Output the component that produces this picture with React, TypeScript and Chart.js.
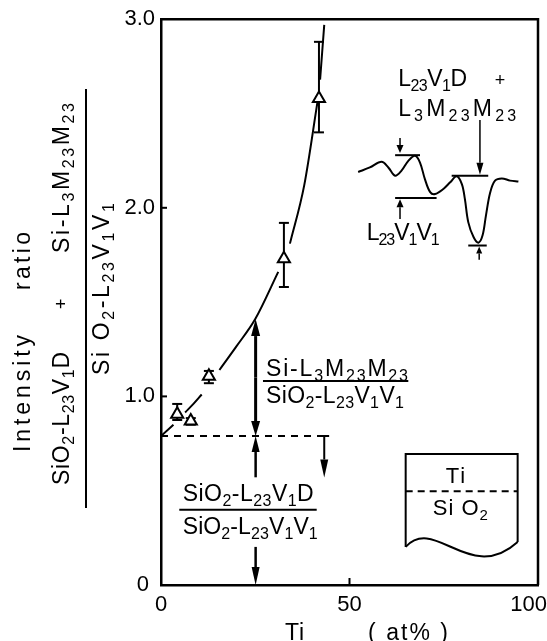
import React, { useEffect, useRef } from "react";
import { Chart, registerables } from "chart.js";

Chart.register(...registerables);

const FONT = '"Liberation Sans", Arial, Helvetica, sans-serif';

// measured points (Ti at%, intensity ratio) with error bars
const tiAtPercent = [4.3, 7.9, 12.7, 32.6, 41.9];
const intensityRatio = [0.905, 0.87, 1.107, 1.73, 2.58];
const ratioErrLow = [0.875, 0.85, 1.07, 1.58, 2.4];
const ratioErrHigh = [0.96, 0.885, 1.135, 1.92, 2.88];

// hand-drawn fit curve (null = gap in the drawn line)
const fitTi = [0, 3.3, 4.8, 6.4, 8.6, 10.8, 13.0, 15.5, 20, 25, 31.1, 32.6, 34.2, 38, 41.5, 41.9, 42.2, 43.3];
const fitRatio = [0.79, 0.85, null, 0.915, 0.96, 1.01, null, 1.14, 1.265, 1.41, 1.66, null, 1.81, 2.12, 2.56, null, 2.68, 2.97];

// inset Auger spectrum sketch
const spectrumX = [52.3, 55.4, 58.5, 60.3, 62.1, 63.8, 65.6, 67.4, 68.7, 70.0, 71.4, 72.7, 74.9, 76.7, 78.4, 79.8, 80.6, 81.5, 82.9, 84.2, 85.3, 86.2, 87.3, 88.6, 90.4, 92.6, 94.8];
const spectrumY = [2.19, 2.214, 2.244, 2.214, 2.17, 2.197, 2.249, 2.276, 2.24, 2.152, 2.083, 2.073, 2.1, 2.135, 2.167, 2.126, 2.047, 1.924, 1.845, 1.815, 1.854, 1.96, 2.08, 2.144, 2.156, 2.144, 2.139];

const xTickLabels: Record<number, string> = { 0: "0", 50: "50", 100: "100" };
const yTickLabels: Record<number, string> = { 0: "0 ", 1: "1.0", 2: "2.0", 3: "3.0" };
const baselineRatio = 0.79;

type Seg = { t: string; sub: boolean };
function parseRich(s: string): Seg[] {
  const segs: Seg[] = [];
  const re = /_(\d+)|([^_]+)/g;
  let m: RegExpExecArray | null;
  while ((m = re.exec(s))) {
    if (m[1] !== undefined) segs.push({ t: m[1], sub: true });
    else segs.push({ t: m[2], sub: false });
  }
  return segs;
}

function drawRich(
  ctx: CanvasRenderingContext2D,
  str: string,
  x: number,
  y: number,
  o: { size: number; align?: "left" | "center" | "right"; target?: number; ls?: number }
) {
  const segs = parseRich(str);
  const size = o.size;
  const sub = Math.round(size * 0.7);
  let w = 0;
  let n = 0;
  for (const s of segs) {
    ctx.font = `${s.sub ? sub : size}px ${FONT}`;
    for (const ch of s.t) {
      w += ctx.measureText(ch).width;
      n++;
    }
  }
  let ls = o.ls ?? 0;
  if (o.target) ls = (o.target - w) / Math.max(1, n - 1);
  const total = w + ls * (n - 1);
  let cx = o.align === "center" ? x - total / 2 : o.align === "right" ? x - total : x;
  ctx.textAlign = "left";
  ctx.textBaseline = "alphabetic";
  for (const s of segs) {
    ctx.font = `${s.sub ? sub : size}px ${FONT}`;
    const dy = s.sub ? size * 0.22 : 0;
    for (const ch of s.t) {
      ctx.fillText(ch, cx, y + dy);
      cx += ctx.measureText(ch).width + ls;
    }
  }
}

function drawRotated(ctx: CanvasRenderingContext2D, str: string, baseX: number, startY: number, size: number, target?: number) {
  ctx.save();
  ctx.translate(baseX, startY);
  ctx.rotate(-Math.PI / 2);
  drawRich(ctx, str, 0, 0, { size, target });
  ctx.restore();
}

function seg(ctx: CanvasRenderingContext2D, x1: number, y1: number, x2: number, y2: number) {
  ctx.beginPath();
  ctx.moveTo(x1, y1);
  ctx.lineTo(x2, y2);
  ctx.stroke();
}

function arrow(ctx: CanvasRenderingContext2D, x1: number, y1: number, x2: number, y2: number, len: number, hw: number, lw: number) {
  const ang = Math.atan2(y2 - y1, x2 - x1);
  const bx = x2 - len * Math.cos(ang);
  const by = y2 - len * Math.sin(ang);
  ctx.lineWidth = lw;
  seg(ctx, x1, y1, bx, by);
  ctx.beginPath();
  ctx.moveTo(x2, y2);
  ctx.lineTo(bx + hw * Math.sin(ang), by - hw * Math.cos(ang));
  ctx.lineTo(bx - hw * Math.sin(ang), by + hw * Math.cos(ang));
  ctx.closePath();
  ctx.fill();
}

const annotations = {
  id: "annotations",
  beforeDatasetsDraw(chart: any) {
    const { ctx } = chart;
    const sx = chart.scales.x;
    const sy = chart.scales.y;
    ctx.save();
    ctx.strokeStyle = "#000";
    ctx.lineWidth = 2;
    tiAtPercent.forEach((x, i) => {
      const px = sx.getPixelForValue(x);
      const y1 = sy.getPixelForValue(ratioErrLow[i]);
      const y2 = sy.getPixelForValue(ratioErrHigh[i]);
      seg(ctx, px, y1, px, y2);
      seg(ctx, px - 5, y1, px + 5, y1);
      seg(ctx, px - 5, y2, px + 5, y2);
    });
    ctx.restore();
  },
  afterDatasetsDraw(chart: any) {
    const { ctx, chartArea } = chart;
    const sx = chart.scales.x;
    const sy = chart.scales.y;
    const X = (v: number) => sx.getPixelForValue(v);
    const Y = (v: number) => sy.getPixelForValue(v);
    const { left, right, top, bottom } = chartArea;
    ctx.save();
    ctx.strokeStyle = "#000";
    ctx.fillStyle = "#000";

    // frame top/right
    ctx.lineWidth = 2.5;
    ctx.beginPath();
    ctx.moveTo(left, top);
    ctx.lineTo(right, top);
    ctx.lineTo(right, bottom);
    ctx.stroke();

    // inward tick marks
    ctx.lineWidth = 2;
    for (const t of sy.ticks) {
      if (t.value > 0 && t.value < 3) seg(ctx, left, Y(t.value), left + 6, Y(t.value));
    }
    for (const t of sx.ticks) {
      if (t.value > 0 && t.value < 100) seg(ctx, X(t.value), bottom, X(t.value), bottom - 7);
    }

    // x tick labels
    ctx.font = `22px ${FONT}`;
    ctx.textAlign = "left";
    ctx.textBaseline = "alphabetic";
    for (const t of sx.ticks) {
      const lab = xTickLabels[t.value] ?? "";
      const w = ctx.measureText(lab).width;
      const cx = Math.min(X(t.value), chart.width - w / 2);
      ctx.fillText(lab, cx - w / 2, bottom + 26);
    }
    // x title
    drawRich(ctx, "Ti", 285, bottom + 55, { size: 23 });
    drawRich(ctx, "( at% )", 368, bottom + 55, { size: 23, target: 80 });

    // y title (rotated)
    drawRotated(ctx, "Intensity", 30, 452, 23, 117);
    drawRotated(ctx, "ratio", 30, 290, 23, 58);
    drawRotated(ctx, "SiO_2-L_23V_1D", 69, 485, 23, 133);
    drawRotated(ctx, "+", 67, 309, 18);
    drawRotated(ctx, "Si-L_3M_23M_23", 69, 253, 23, 150);
    ctx.lineWidth = 2;
    seg(ctx, 86, 89, 86, 508);
    drawRotated(ctx, "Si O_2-L_23V_1V_1", 109, 375, 23, 172);

    // dashed baseline and arrows
    ctx.lineWidth = 2;
    ctx.setLineDash([7, 6]);
    seg(ctx, X(0), Y(baselineRatio), X(44.3), Y(baselineRatio));
    ctx.setLineDash([]);
    seg(ctx, X(42.0), Y(baselineRatio), X(44.6), Y(baselineRatio));
    arrow(ctx, X(43.3), Y(baselineRatio), X(43.3), Y(0.57), 18, 4, 2);
    arrow(ctx, X(25.1), Y(1.1), X(25.1), Y(1.41), 17, 4.5, 3);
    arrow(ctx, X(25.1), Y(1.1), X(25.1), Y(baselineRatio), 15, 4.5, 3);
    arrow(ctx, X(25.1), Y(0.571), X(25.1), Y(baselineRatio), 16, 4, 2.5);
    arrow(ctx, X(25.1), Y(0.202), X(25.1), Y(0), 18, 4, 2.5);

    // right fraction
    drawRich(ctx, "Si-L_3M_23M_23", X(27.85), Y(1.107), { size: 23, target: 142 });
    ctx.lineWidth = 2;
    seg(ctx, X(27.05), Y(1.081), X(65.6), Y(1.081));
    drawRich(ctx, "SiO_2-L_23V_1V_1", X(27.85), Y(0.966), { size: 23, target: 138 });

    // lower fraction
    drawRich(ctx, "SiO_2-L_23V_1D", X(5.76), Y(0.444), { size: 23, target: 131 });
    seg(ctx, X(4.85), Y(0.399), X(41.3), Y(0.399));
    drawRich(ctx, "SiO_2-L_23V_1V_1", X(5.76), Y(0.269), { size: 23, target: 135 });

    // spectrum labels and markers
    drawRich(ctx, "L_23V_1D", X(62.9), Y(2.646), { size: 23, target: 69 });
    drawRich(ctx, "+", X(89.9), Y(2.646), { size: 18, align: "center" });
    drawRich(ctx, "L_3M_23M_23", X(62.9), Y(2.488), { size: 23, target: 118 });
    drawRich(ctx, "L_23V_1V_1", X(54.56), Y(1.829), { size: 23, target: 73 });
    ctx.lineWidth = 2;
    seg(ctx, X(62.1), Y(2.279), X(68.7), Y(2.279));
    arrow(ctx, X(63.4), Y(2.37), X(63.4), Y(2.29), 8, 3.5, 1.5);
    ctx.lineWidth = 2;
    seg(ctx, X(62.1), Y(2.052), X(73.1), Y(2.052));
    arrow(ctx, X(63.4), Y(1.94), X(63.4), Y(2.045), 8, 3.5, 1.5);
    ctx.lineWidth = 2;
    seg(ctx, X(77.1), Y(2.17), X(86.8), Y(2.17));
    arrow(ctx, X(84.6), Y(2.465), X(84.6), Y(2.175), 12, 3.5, 1.5);
    ctx.lineWidth = 2;
    seg(ctx, X(81.5), Y(1.8), X(86.4), Y(1.8));
    arrow(ctx, X(84.4), Y(1.725), X(84.4), Y(1.795), 7, 3, 1.5);

    // inset layer sketch
    ctx.lineWidth = 2;
    ctx.beginPath();
    ctx.moveTo(X(64.9), Y(0.202));
    ctx.lineTo(X(64.9), Y(0.694));
    ctx.lineTo(X(94.6), Y(0.694));
    ctx.lineTo(X(94.6), Y(0.228));
    ctx.stroke();
    ctx.beginPath();
    ctx.moveTo(X(64.9), Y(0.202));
    ctx.bezierCurveTo(X(72.7), Y(0.37), X(82), Y(0.0), X(94.6), Y(0.228));
    ctx.stroke();
    ctx.setLineDash([7, 5]);
    seg(ctx, X(64.9), Y(0.497), X(94.6), Y(0.497));
    ctx.setLineDash([]);
    drawRich(ctx, "Ti", X(78.1), Y(0.543), { size: 22, align: "center", ls: 1 });
    drawRich(ctx, "Si O_2", X(79.4), Y(0.369), { size: 22, align: "center", target: 55 });

    ctx.restore();
  },
};

export default function App() {
  const ref = useRef<HTMLCanvasElement>(null);
  useEffect(() => {
    const chart = new Chart(ref.current as HTMLCanvasElement, {
      type: "line",
      data: {
        datasets: [
          {
            label: "measured",
            data: tiAtPercent.map((x, i) => ({ x, y: intensityRatio[i] })),
            showLine: false,
            pointStyle: "triangle",
            pointRadius: 7,
            backgroundColor: "#fff",
            borderColor: "#000",
            borderWidth: 2,
          },
          {
            label: "fit",
            data: fitTi.map((x, i) => ({ x, y: fitRatio[i] })),
            borderColor: "#000",
            borderWidth: 2,
            pointRadius: 0,
            tension: 0.4,
            cubicInterpolationMode: "monotone",
            spanGaps: false,
            fill: false,
          },
          {
            label: "spectrum",
            data: spectrumX.map((x, i) => ({ x, y: spectrumY[i] })),
            borderColor: "#000",
            borderWidth: 2,
            pointRadius: 0,
            tension: 0.35,
            fill: false,
          },
        ],
      } as any,
      options: {
        responsive: false,
        animation: false,
        events: [],
        layout: { autoPadding: false, padding: { top: 16, right: 9, left: 0, bottom: 0 } },
        plugins: { legend: { display: false }, tooltip: { enabled: false } },
        scales: {
          x: {
            type: "linear",
            min: 0,
            max: 100,
            grid: { display: false, drawTicks: false },
            border: { display: true, color: "#000", width: 2.5 },
            ticks: { display: false, stepSize: 50 },
            afterFit: (s: any) => {
              s.height = 56;
            },
          },
          y: {
            type: "linear",
            min: 0,
            max: 3,
            grid: { display: false, drawTicks: false },
            border: { display: true, color: "#000", width: 2.5 },
            ticks: {
              stepSize: 1,
              padding: 6,
              color: "#000",
              font: { size: 22, family: FONT },
              callback: (v: any) => yTickLabels[v] ?? "",
            },
            afterFit: (s: any) => {
              s.width = 161;
            },
          },
        },
      } as any,
      plugins: [annotations],
    });
    return () => chart.destroy();
  }, []);
  return (
    <div style={{ position: "absolute", left: 0, top: 0, width: 547, height: 641, background: "#fff" }}>
      <canvas ref={ref} width={547} height={641} style={{ display: "block" }} />
    </div>
  );
}
